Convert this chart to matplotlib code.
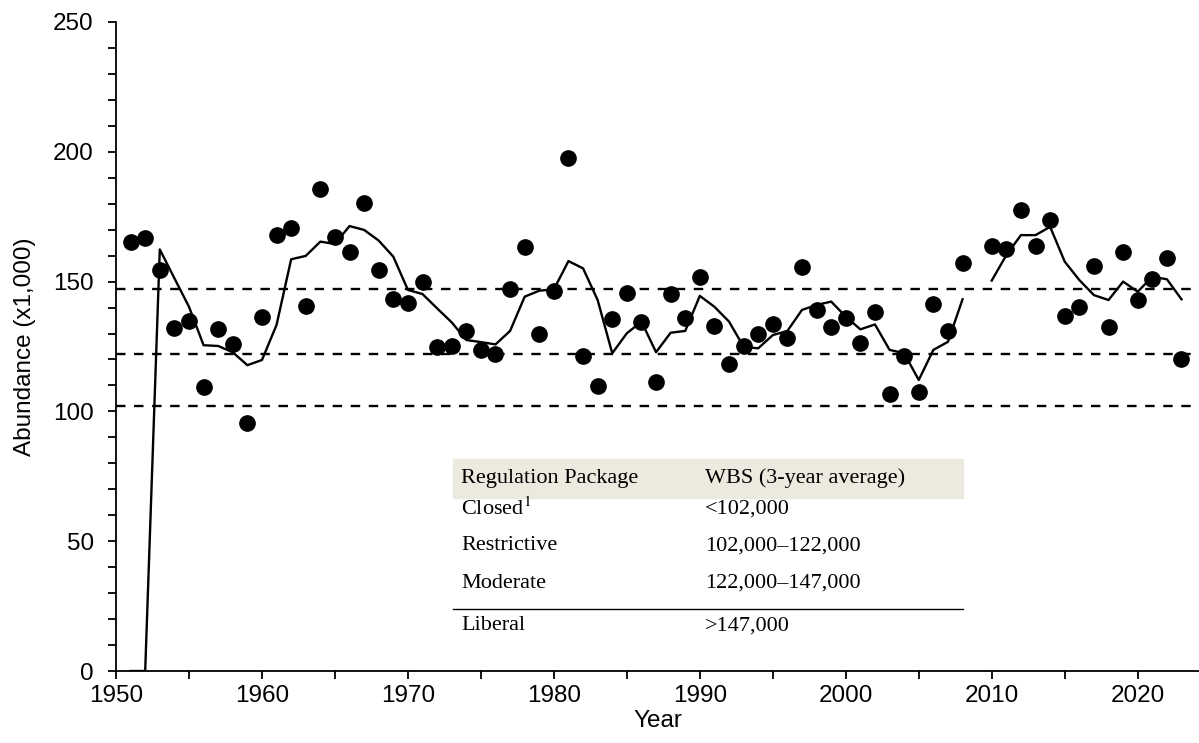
import numpy as np
import matplotlib
matplotlib.use("Agg")
import matplotlib.pyplot as plt
from matplotlib.ticker import MultipleLocator

plt.rcParams['font.family'] = ['Liberation Sans', 'DejaVu Sans']
plt.rcParams['mathtext.fontset'] = 'stix'
plt.rcParams['lines.scale_dashes'] = False

# annual abundance estimates (x1,000); 2009 missing
years = list(range(1951, 2024))
abundance = [165.4, 166.7, 154.5, 132.2, 134.7, 109.5, 131.6, 126.1, 95.6, 136.5,
             168.0, 170.5, 140.6, 185.5, 167.3, 161.5, 180.2, 154.6, 143.3, 141.9,
             149.7, 124.9, 125.2, 131.0, 123.7, 122.1, 147.1, 163.2, 129.8, 146.5,
             197.7, 121.3, 109.8, 135.5, 145.5, 134.6, 111.2, 145.2, 135.9, 151.9,
             133.0, 118.1, 125.2, 129.7, 133.7, 128.1, 155.5, 139.1, 132.6, 135.9,
             126.2, 138.4, 106.6, 121.5, 107.6, 141.4, 131.0, 157.3, np.nan, 163.8,
             162.7, 177.6, 163.7, 173.6, 136.7, 140.3, 156.0, 132.6, 161.4, 143.0,
             150.9, 159.0, 120.2]

# 3-year running average
avg3 = [0, 0, 162.4, 151.3, 140.3, 125.5, 125.2, 122.8, 117.8, 119.8,
        133.3, 158.6, 159.9, 165.4, 164.5, 171.4, 169.9, 165.8, 159.6, 146.8,
        145.2, 139.7, 134.3, 127.5, 126.7, 125.8, 131.0, 144.2, 146.5, 147.0,
        157.9, 155.1, 142.9, 122.4, 130.1, 134.6, 122.8, 130.3, 131.0, 144.5,
        140.3, 134.6, 124.9, 124.3, 129.4, 131.0, 139.1, 141.0, 142.3, 136.5,
        131.6, 133.5, 123.7, 122.4, 112.1, 123.7, 126.8, 143.2, np.nan, 150.4,
        160.2, 167.9, 167.9, 171.1, 157.7, 150.6, 144.8, 142.9, 150.0, 146.1,
        151.9, 150.9, 143.2]

thresholds = [147, 122, 102]

table_header = ["Regulation Package", "WBS (3-year average)"]
table_rows = [["Closed$^{1}$", "<102,000"],
              ["Restrictive", "102,000\u2013122,000"],
              ["Moderate", "122,000\u2013147,000"],
              ["Liberal", ">147,000"]]

fig = plt.figure(figsize=(11.99, 7.43), dpi=100)
ax = fig.add_axes([116/1199, 1 - 671/743, 1 - 116/1199, (671 - 22)/743])

for t in thresholds:
    ax.axhline(t, color='black', lw=1.7, dashes=(6.8, 6.2))

ax.plot(years, avg3, color='black', lw=1.7)
ax.plot(years, abundance, 'o', color='black', ms=11, mec='black')

ax.set_xlim(1950, 2024.2)
ax.set_ylim(0, 250)
ax.xaxis.set_major_locator(MultipleLocator(10))
ax.xaxis.set_minor_locator(MultipleLocator(5))
ax.yaxis.set_major_locator(MultipleLocator(50))
ax.yaxis.set_minor_locator(MultipleLocator(10))
ax.tick_params(which='both', direction='out', length=6, width=1.3, labelsize=17.5)
ax.tick_params(axis='y', pad=10)
ax.tick_params(axis='x', pad=4)
for s in ['top', 'right']:
    ax.spines[s].set_visible(False)
for s in ['left', 'bottom']:
    ax.spines[s].set_linewidth(1.3)

ax.set_xlabel("Year", fontsize=17.5, labelpad=2)
ax.set_ylabel("Abundance (x1,000)", fontsize=17.5, labelpad=12)

# inset regulation table
def fx(px):
    return px / 1199

def fy(py):
    return 1 - py / 743

fig.patches.append(plt.Rectangle((fx(453), fy(498)), fx(963) - fx(453), fy(459) - fy(498),
                                 transform=fig.transFigure, color='#ece9df', zorder=0.5))
serif = ['Liberation Serif', 'DejaVu Serif']
fig.text(fx(461), fy(478), table_header[0], family=serif, fontsize=16, va='center')
fig.text(fx(705), fy(478), table_header[1], family=serif, fontsize=16, va='center')
row_y = [509, 546, 583, 626]
for (a, b), yy in zip(table_rows, row_y):
    fig.text(fx(461), fy(yy), a, family=serif, fontsize=16, va='center')
    fig.text(fx(705), fy(yy), b, family=serif, fontsize=16, va='center')
fig.add_artist(plt.Line2D([fx(453), fx(963)], [fy(609), fy(609)], color='black', lw=1.0,
                          transform=fig.transFigure))

fig.savefig("out.png", dpi=100)
